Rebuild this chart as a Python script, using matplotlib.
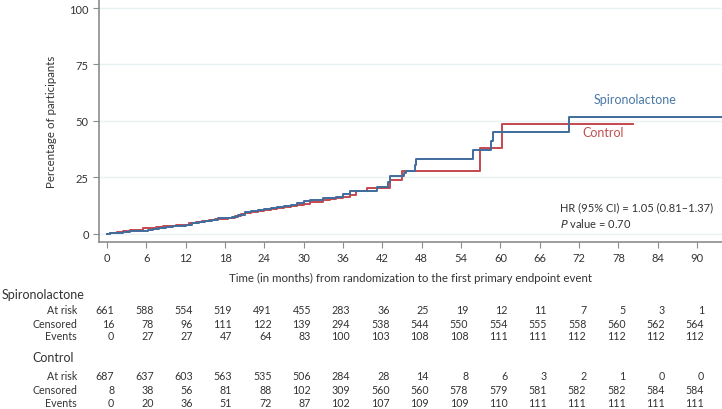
import matplotlib
matplotlib.use('Agg')
import matplotlib.pyplot as plt
import matplotlib.transforms as mtransforms

plt.rcParams['font.family'] = ['Lato', 'DejaVu Sans']

# step curves (month, cumulative %)
spiro_t = [0, 0.5, 1.5, 2.5, 3.5, 5.0, 6.2, 7.0, 8.0, 9.0, 10.0, 11.0, 12.0, 13.0, 14.0,
           15.0, 16.0, 17.0, 18.0, 19.0, 20.0, 21.0, 22.0, 23.0, 24.0, 25.0, 26.0, 27.0,
           28.0, 29.0, 30.0, 31.0, 32.0, 33.0, 34.0, 35.0, 36.0, 37.0, 41.2, 42.8, 43.1,
           45.3, 45.6, 46.9, 47.1, 55.8, 58.5, 58.8, 70.5, 93.8]
spiro_y = [0, 0.3, 0.6, 0.9, 1.1, 1.3, 1.6, 2.2, 2.8, 3.1, 3.4, 3.6, 4.0, 4.8, 5.3,
           5.8, 6.2, 6.9, 7.2, 7.6, 8.2, 9.5, 10.0, 10.4, 10.8, 11.3, 11.8, 12.2,
           12.8, 13.6, 14.4, 14.8, 15.1, 15.7, 16.0, 16.4, 17.6, 18.9, 20.8, 23.0, 25.7,
           27.0, 27.8, 30.5, 33.3, 37.2, 41.0, 45.1, 51.9, 51.9]

control_t = [0, 0.5, 1.5, 2.5, 3.5, 5.0, 5.5, 6.5, 7.5, 8.5, 9.5, 10.5, 11.5, 12.5, 13.5,
             14.5, 15.5, 16.5, 17.5, 18.5, 19.5, 20.5, 21.0, 22.0, 23.0, 24.0, 25.0, 26.0,
             27.0, 28.0, 29.0, 30.0, 31.0, 32.0, 33.0, 34.0, 35.0, 36.0, 37.0, 38.0, 39.6,
             43.2, 45.0, 56.9, 60.2, 80.2]
control_y = [0, 0.4, 0.8, 1.2, 1.5, 1.8, 2.4, 2.8, 3.1, 3.3, 3.6, 3.9, 4.1, 4.7, 5.2,
             5.6, 6.0, 6.4, 6.8, 7.2, 7.8, 8.6, 9.4, 9.9, 10.3, 10.7, 11.1, 11.5,
             11.9, 12.3, 12.8, 13.4, 13.9, 14.3, 14.8, 15.4, 16.0, 16.5, 17.2, 18.8, 20.5,
             24.0, 27.8, 38.2, 48.6, 48.6]

months = [0, 6, 12, 18, 24, 30, 36, 42, 48, 54, 60, 66, 72, 78, 84, 90]

spiro_risk = [661, 588, 554, 519, 491, 455, 283, 36, 25, 19, 12, 11, 7, 5, 3, 1]
spiro_cens = [16, 78, 96, 111, 122, 139, 294, 538, 544, 550, 554, 555, 558, 560, 562, 564]
spiro_events = [0, 27, 27, 47, 64, 83, 100, 103, 108, 108, 111, 111, 112, 112, 112, 112]

control_risk = [687, 637, 603, 563, 535, 506, 284, 28, 14, 8, 6, 3, 2, 1, 0, 0]
control_cens = [8, 38, 56, 81, 88, 102, 309, 560, 560, 578, 579, 581, 582, 582, 584, 584]
control_events = [0, 20, 36, 51, 72, 87, 102, 107, 109, 109, 110, 111, 111, 111, 111, 111]

blue = '#3f6d9d'
red = '#c4484f'
grey = '#8c8c8c'
txt = '#333333'

W, H = 722, 410
fig = plt.figure(figsize=(W / 100, H / 100), dpi=100)
ax = fig.add_axes([98.5 / W, 1 - 243 / H, 1 - 98.5 / W, 243 / H])

ax.step(spiro_t, spiro_y, where='post', color=blue, lw=1.4, zorder=3)
ax.step(control_t, control_y, where='post', color=red, lw=1.4, zorder=2)

ax.set_xlim(-1.3, 93.8)
ax.set_ylim(-3.6, 104)
ax.set_xticks(months)
ax.set_yticks([0, 25, 50, 75, 100])
for v in [0, 25, 50, 75, 100]:
    ax.axhline(v, color='#e8f1f4', lw=1.0, zorder=0)

for s in ['top', 'right']:
    ax.spines[s].set_visible(False)
for s in ['left', 'bottom']:
    ax.spines[s].set_color(grey)
    ax.spines[s].set_linewidth(1.2)
ax.tick_params(colors=grey, length=4, width=0.8, labelsize=8, labelcolor=txt, pad=3)

ax.set_ylabel('Percentage of participants', fontsize=8.3, color=txt, labelpad=9)
ax.set_xlabel('Time (in months) from randomization to the first primary endpoint event',
              fontsize=8.3, color=txt, labelpad=7)

ax.text(80.5, 59.7, 'Spironolactone', color='#4a78a6', fontsize=9, ha='center', va='center')
ax.text(75.7, 45.1, 'Control', color='#c0504f', fontsize=9, ha='center', va='center')
ax.text(69.1, 11.8, 'HR (95% CI) = 1.05 (0.81\u20131.37)', fontsize=8, color=txt, va='center')
ax.text(69.1, 4.9, '$\\it{P}$ value = 0.70', fontsize=8, color=txt, va='center')

# number-at-risk table under the axis
trans = mtransforms.blended_transform_factory(ax.transData, fig.transFigure)


def fy(px):
    return 1 - px / H


rows = [
    ('At risk', spiro_risk, 311), ('Censored', spiro_cens, 324), ('Events', spiro_events, 337),
    ('At risk', control_risk, 377), ('Censored', control_cens, 390.5), ('Events', control_events, 404),
]
fig.text(2 / W, fy(295), 'Spironolactone', fontsize=9, color=txt, va='center')
fig.text(32 / W, fy(358), 'Control', fontsize=9, color=txt, va='center')
for name, vals, py in rows:
    fig.text(77 / W, fy(py), name, fontsize=7.7, color=txt, ha='right', va='center')
    for m, v in zip(months, vals):
        ax.text(m + 1.1, fy(py), str(v), transform=trans, fontsize=7.7, color=txt,
                ha='right', va='center', clip_on=False)

fig.savefig('out.png', dpi=100)
